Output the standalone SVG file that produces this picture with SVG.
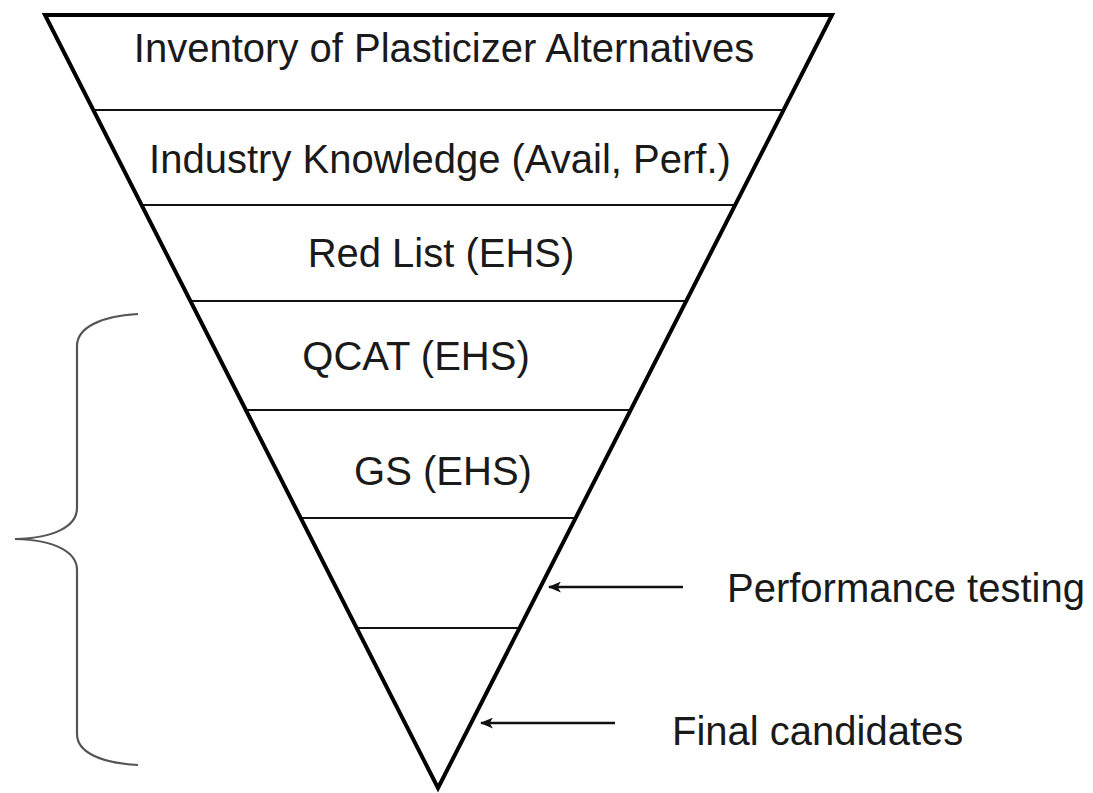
<svg xmlns="http://www.w3.org/2000/svg" width="1093" height="793" viewBox="0 0 1093 793">
  <style>
    .t { font-family: "Liberation Sans", Arial, sans-serif; font-size: 40px; fill: #1a1a1a; }
    .c { text-anchor: middle; }
    .div { stroke: #111; stroke-width: 2.2; fill: none; }
    .edge { stroke: #000; stroke-width: 4; fill: none; stroke-linejoin: miter; }
    .arr { stroke: #111; stroke-width: 2.6; fill: none; }
    .brace { stroke: #555; stroke-width: 2.2; fill: none; }
  </style>
  <defs>
    <marker id="ah" viewBox="0 0 12 10" refX="11" refY="5" markerUnits="userSpaceOnUse" markerWidth="13" markerHeight="11" orient="auto">
      <path d="M0,0 L12,5 L0,10 L3,5 Z" fill="#111"/>
    </marker>
  </defs>
  <rect width="1093" height="793" fill="#fff"/>

  <g id="layer-inventory">
    <text class="t c" x="444" y="62">Inventory of Plasticizer Alternatives</text>
  </g>
  <g id="layer-industry">
    <line class="div" x1="93" y1="110" x2="784" y2="110"/>
    <text class="t c" x="440" y="173">Industry Knowledge (Avail, Perf.)</text>
  </g>
  <g id="layer-redlist">
    <line class="div" x1="142" y1="205" x2="735" y2="205"/>
    <text class="t c" x="441" y="267">Red List (EHS)</text>
  </g>
  <g id="layer-qcat">
    <line class="div" x1="190" y1="301" x2="686" y2="301"/>
    <text class="t c" x="416" y="370">QCAT (EHS)</text>
  </g>
  <g id="layer-gs">
    <line class="div" x1="246" y1="410" x2="631" y2="410"/>
    <text class="t c" x="443" y="485">GS (EHS)</text>
  </g>
  <g id="layer-performance">
    <line class="div" x1="301" y1="518" x2="576" y2="518"/>
  </g>
  <g id="layer-final">
    <line class="div" x1="357" y1="628" x2="520" y2="628"/>
  </g>

  <g id="funnel">
    <polygon class="edge" points="45,15 832,15 438,788"/>
  </g>

  <g id="brace">
    <path class="brace" d="M138,314 C100,316 77,328 77,346 L77,508 C77,526 55,538 15,539 C55,540 77,552 77,570 L77,734 C77,752 100,763 138,765"/>
  </g>

  <g id="connectors">
    <line class="arr" x1="683" y1="587" x2="549" y2="587" marker-end="url(#ah)"/>
    <line class="arr" x1="615" y1="723" x2="481" y2="723" marker-end="url(#ah)"/>
  </g>

  <g id="label-performance">
    <text class="t" x="727" y="602">Performance testing</text>
  </g>
  <g id="label-final">
    <text class="t" x="672" y="745">Final candidates</text>
  </g>
</svg>
